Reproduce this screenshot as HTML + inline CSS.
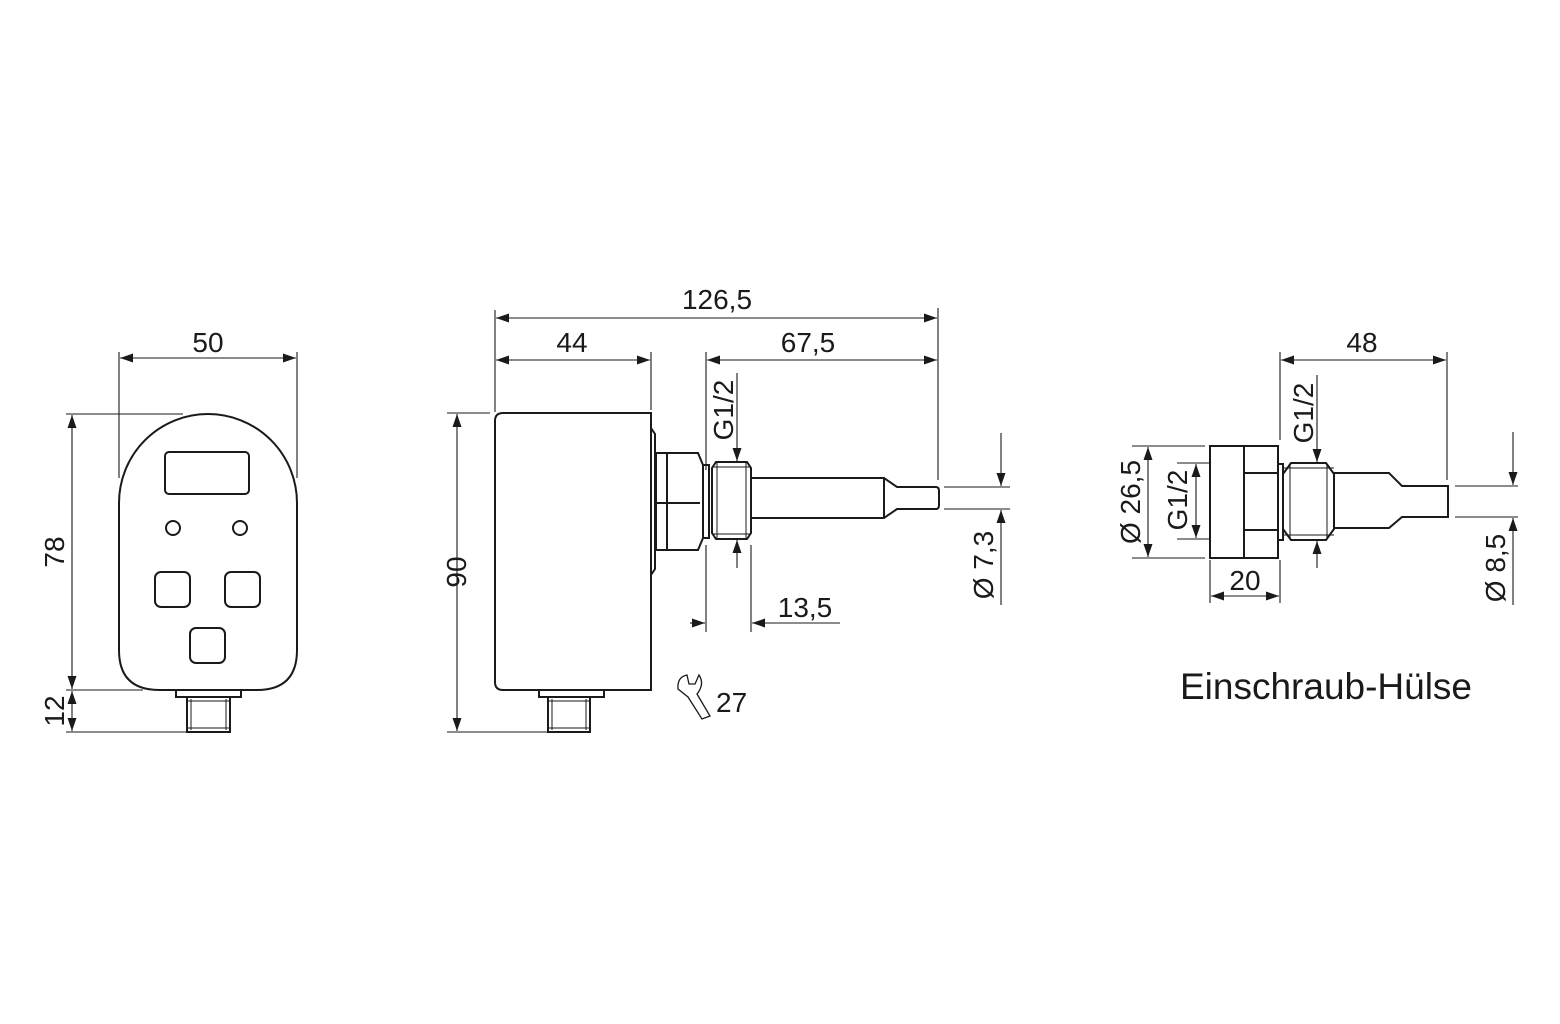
<!DOCTYPE html>
<html><head><meta charset="utf-8"><style>
html,body{margin:0;padding:0;background:#fff}
svg{display:block}
text{font-family:"Liberation Sans",Arial,sans-serif;fill:#1a1a1a}
</style></head><body>
<svg width="1560" height="1024" viewBox="0 0 1560 1024" xmlns="http://www.w3.org/2000/svg">
<defs>
<marker id="a" markerUnits="userSpaceOnUse" markerWidth="14" markerHeight="10" refX="13" refY="4.5" orient="auto-start-reverse"><path d="M0,0 L13,4.5 L0,9 z" fill="#1a1a1a"/></marker>
</defs>
<g stroke="#1a1a1a" fill="none">
<!-- ===== Front view ===== -->
<g stroke-width="1.1">
<line x1="119" y1="352" x2="119" y2="478"/>
<line x1="297" y1="352" x2="297" y2="478"/>
<line x1="120" y1="358" x2="296" y2="358" marker-start="url(#a)" marker-end="url(#a)"/>
<line x1="66" y1="414" x2="183" y2="414"/>
<line x1="66" y1="690" x2="143" y2="690"/>
<line x1="66" y1="732" x2="187" y2="732"/>
<line x1="72" y1="415" x2="72" y2="689" marker-start="url(#a)" marker-end="url(#a)"/>
<line x1="72" y1="691" x2="72" y2="731" marker-start="url(#a)" marker-end="url(#a)"/>
</g>
<g stroke-width="2">
<path d="M119,503 A89,89 0 0 1 297,503 L297,650 Q297,690 257,690 L159,690 Q119,690 119,650 Z"/>
<rect x="165" y="452" width="84" height="42" rx="4"/>
<circle cx="173" cy="528" r="7"/>
<circle cx="240" cy="528" r="7"/>
<rect x="155" y="572" width="35" height="35" rx="6"/>
<rect x="225" y="572" width="35" height="35" rx="6"/>
<rect x="190" y="628" width="35" height="35" rx="6"/>
<rect x="176" y="690" width="65" height="7"/>
<rect x="187" y="697" width="43" height="35"/>
</g>
<g stroke-width="1">
<line x1="191" y1="699" x2="191" y2="730"/><line x1="226" y1="699" x2="226" y2="730"/>
<line x1="187" y1="701" x2="230" y2="701"/><line x1="187" y1="728" x2="230" y2="728"/>
</g>

<!-- ===== Side view ===== -->
<g stroke-width="1.1">
<line x1="495" y1="310" x2="495" y2="412"/>
<line x1="651" y1="352" x2="651" y2="410"/>
<line x1="938" y1="308" x2="938" y2="480"/>
<line x1="706" y1="352" x2="706" y2="470"/>
<line x1="496" y1="318" x2="937" y2="318" marker-start="url(#a)" marker-end="url(#a)"/>
<line x1="496" y1="360" x2="650" y2="360" marker-start="url(#a)" marker-end="url(#a)"/>
<line x1="707" y1="360" x2="937" y2="360" marker-start="url(#a)" marker-end="url(#a)"/>
<line x1="447" y1="413" x2="490" y2="413"/>
<line x1="447" y1="732" x2="548" y2="732"/>
<line x1="457" y1="414" x2="457" y2="731" marker-start="url(#a)" marker-end="url(#a)"/>
<line x1="737" y1="373" x2="737" y2="461" marker-end="url(#a)"/>
<line x1="737" y1="568" x2="737" y2="540" marker-end="url(#a)"/>
<line x1="706" y1="545" x2="706" y2="632"/>
<line x1="751" y1="545" x2="751" y2="632"/>
<line x1="690" y1="623" x2="705" y2="623" marker-end="url(#a)"/>
<line x1="840" y1="623" x2="752" y2="623" marker-end="url(#a)"/>
<line x1="944" y1="487" x2="1010" y2="487"/>
<line x1="944" y1="509" x2="1010" y2="509"/>
<line x1="1001" y1="433" x2="1001" y2="486" marker-end="url(#a)"/>
<line x1="1001" y1="605" x2="1001" y2="510" marker-end="url(#a)"/>
</g>
<g stroke-width="2">
<path d="M503,413 L651,413 L651,690 L503,690 Q495,690 495,682 L495,421 Q495,413 503,413 Z"/>
<path d="M651,428 L655,434 L655,569 L651,575"/>
<path d="M656,453 L698,453 L703,465 L703,538 L698,550 L656,550 Z"/>
<line x1="667" y1="453" x2="667" y2="550"/>
<line x1="656" y1="503" x2="700" y2="503"/>
<rect x="703" y="465" width="6" height="73"/>
<path d="M716,462 L747,462 L751,468 L751,533 L747,539 L716,539 L712,533 L712,468 Z"/>
<path d="M751,478 L884,478 L897,487 L936,487 Q939,487 939,491 L939,505 Q939,509 936,509 L897,509 L884,518 L751,518"/>
<line x1="884" y1="478" x2="884" y2="518"/>
<rect x="539" y="690" width="65" height="7"/>
<rect x="548" y="697" width="42" height="35"/>
</g>
<g stroke-width="1">
<line x1="717" y1="463" x2="717" y2="538"/><line x1="746" y1="463" x2="746" y2="538"/>
<line x1="712" y1="467" x2="751" y2="467"/><line x1="712" y1="534" x2="751" y2="534"/>
<line x1="552" y1="699" x2="552" y2="730"/><line x1="586" y1="699" x2="586" y2="730"/>
<line x1="548" y1="701" x2="590" y2="701"/><line x1="548" y1="728" x2="590" y2="728"/>
</g>
<!-- wrench -->
<path stroke-width="1.3" d="M687,675 Q677,677 678,689 L688,697 L702,719 L710,716 L697,694 Q705,684 699,675 L695,684 L689,684 Z"/>

<!-- ===== Einschraub-Hülse ===== -->
<g stroke-width="1.1">
<line x1="1280" y1="352" x2="1280" y2="440"/>
<line x1="1447" y1="352" x2="1447" y2="480"/>
<line x1="1281" y1="360" x2="1446" y2="360" marker-start="url(#a)" marker-end="url(#a)"/>
<line x1="1317" y1="375" x2="1317" y2="462" marker-end="url(#a)"/>
<line x1="1317" y1="568" x2="1317" y2="541" marker-end="url(#a)"/>
<line x1="1455" y1="486" x2="1518" y2="486"/>
<line x1="1455" y1="517" x2="1518" y2="517"/>
<line x1="1513" y1="432" x2="1513" y2="485" marker-end="url(#a)"/>
<line x1="1513" y1="605" x2="1513" y2="518" marker-end="url(#a)"/>
<line x1="1132" y1="446" x2="1205" y2="446"/>
<line x1="1132" y1="558" x2="1205" y2="558"/>
<line x1="1148" y1="447" x2="1148" y2="557" marker-start="url(#a)" marker-end="url(#a)"/>
<line x1="1177" y1="463" x2="1210" y2="463"/>
<line x1="1177" y1="539" x2="1210" y2="539"/>
<line x1="1196" y1="464" x2="1196" y2="538" marker-start="url(#a)" marker-end="url(#a)"/>
<line x1="1210" y1="560" x2="1210" y2="603"/>
<line x1="1280" y1="560" x2="1280" y2="603"/>
<line x1="1211" y1="596" x2="1279" y2="596" marker-start="url(#a)" marker-end="url(#a)"/>
</g>
<g stroke-width="2">
<rect x="1210" y="446" width="34" height="112"/>
<rect x="1244" y="446" width="34" height="112"/>
<line x1="1244" y1="473" x2="1278" y2="473"/>
<line x1="1244" y1="530" x2="1278" y2="530"/>
<rect x="1278" y="464" width="5" height="76"/>
<path d="M1291,463 L1326,463 L1334,474 L1334,529 L1326,540 L1291,540 L1283,529 L1283,474 Z"/>
<path d="M1334,473 L1389,473 L1402,486 L1448,486 L1448,517 L1402,517 L1389,528 L1334,528"/>
</g>
<g stroke-width="1">
<line x1="1290" y1="464" x2="1290" y2="539"/><line x1="1327" y1="464" x2="1327" y2="539"/>
<line x1="1283" y1="468" x2="1334" y2="468"/><line x1="1283" y1="535" x2="1334" y2="535"/>
</g>
</g>

<!-- Texts -->
<g font-size="28">
<text x="208" y="352" text-anchor="middle">50</text>
<text transform="translate(64,552) rotate(-90)" text-anchor="middle">78</text>
<text transform="translate(64,711) rotate(-90)" text-anchor="middle">12</text>
<text x="717" y="309" text-anchor="middle">126,5</text>
<text x="572" y="352" text-anchor="middle">44</text>
<text x="808" y="352" text-anchor="middle">67,5</text>
<text transform="translate(733,410) rotate(-90)" text-anchor="middle">G1/2</text>
<text x="805" y="617" text-anchor="middle">13,5</text>
<text transform="translate(466,572) rotate(-90)" text-anchor="middle">90</text>
<text transform="translate(993,565) rotate(-90)" text-anchor="middle">Ø 7,3</text>
<text x="716" y="712">27</text>
<text x="1362" y="352" text-anchor="middle">48</text>
<text transform="translate(1313,413) rotate(-90)" text-anchor="middle">G1/2</text>
<text transform="translate(1140,502) rotate(-90)" text-anchor="middle">Ø 26,5</text>
<text transform="translate(1187,500) rotate(-90)" text-anchor="middle">G1/2</text>
<text x="1245" y="590" text-anchor="middle">20</text>
<text transform="translate(1505,568) rotate(-90)" text-anchor="middle">Ø 8,5</text>
</g>
<text x="1326" y="699" text-anchor="middle" font-size="37">Einschraub-Hülse</text>
</svg>
</body></html>
